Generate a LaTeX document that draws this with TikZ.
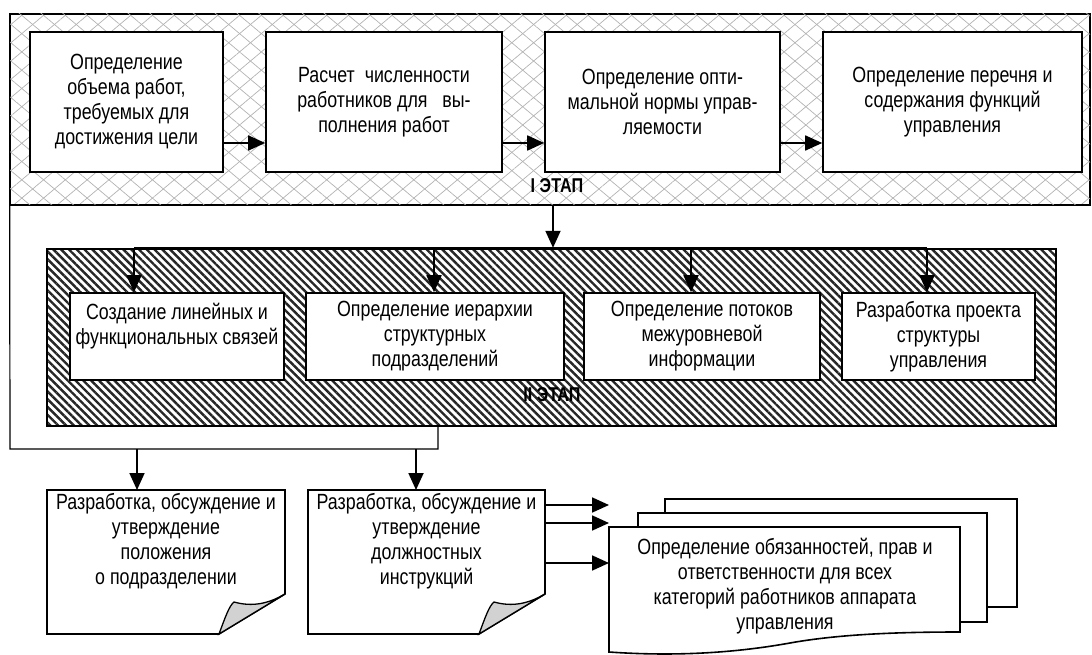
\documentclass[tikz,border=0pt]{standalone}
\usepackage{fontspec}
\setmainfont{Liberation Sans}[FakeStretch=0.81]
\usetikzlibrary{patterns.meta,arrows.meta}
\begin{document}
\begin{tikzpicture}[x=1pt,y=-1pt,
  font=\fontsize{22}{25}\selectfont,
  boxst/.style={draw, line width=1.6pt, fill=white, inner sep=1pt, align=center},
  region/.style={inner sep=0pt, outer sep=0pt},
  arr/.style={line width=1.8pt, -{Triangle[length=17pt,width=15pt]}},
  thin/.style={line width=1.2pt},
  lbl/.style={font=\fontsize{20}{22}\selectfont\bfseries, inner sep=0pt},
  txt/.style={align=center, inner sep=0pt},
  docst/.style={draw, line width=1.6pt, fill=white},
  frameone/.style={draw, line width=1.5pt, inner sep=0pt,
    pattern={Lines[angle=40,distance=14pt,line width=0.7pt]}, pattern color=gray!60,
    postaction={pattern={Lines[angle=-40,distance=14pt,line width=0.7pt]}, pattern color=gray!60}},
  frametwo/.style={draw, line width=1.5pt, inner sep=0pt,
    pattern={Lines[angle=-45,distance=5.5pt,line width=2.4pt]}, pattern color=black!85},
]
\useasboundingbox (0,0) rectangle (1092,655);

% ---------- Stage I ----------
\node[frameone, minimum width=1080pt, minimum height=191pt] (s1) at (550,109.5) {};
\node[boxst, minimum width=193pt, minimum height=140pt] (b1) at (126.5,102)
  {Определение\\объема работ,\\требуемых для\\достижения цели};
\node[boxst, minimum width=236pt, minimum height=140pt] (b2) at (384,102)
  {Расчет\ \ численности\\работников для\ \ \ вы-\\полнения работ};
\node[boxst, minimum width=235pt, minimum height=140pt] (b3) at (662.5,102)
  {Определение опти-\\мальной нормы управ-\\ляемости};
\node[boxst, minimum width=259pt, minimum height=140pt] (b4) at (952.5,102)
  {Определение перечня и\\содержания функций\\управления};
\coordinate (ya) at (0,143);
\draw[arr] (b1.east |- ya) -- (b2.west |- ya);
\draw[arr] (b2.east |- ya) -- (b3.west |- ya);
\draw[arr] (b3.east |- ya) -- (b4.west |- ya);
\node[lbl] (l1) at (557,186) {I ЭТАП};

% ---------- Stage II ----------
\node[frametwo, minimum width=1009pt, minimum height=177pt] (s2) at (551.5,337.5) {};
\node[boxst, minimum width=214pt, minimum height=87pt] (c1) at (177,336.5)
  {Создание линейных и\\функциональных связей\\~};
\node[boxst, minimum width=258pt, minimum height=87pt] (c2) at (435,336.5)
  {Определение иерархии\\структурных\\подразделений};
\node[boxst, minimum width=236pt, minimum height=87pt] (c3) at (702,336.5)
  {Определение потоков\\межуровневой\\информации};
\node[boxst, minimum width=193pt, minimum height=87pt] (c4) at (938.5,336.5)
  {Разработка проекта\\структуры\\управления};
\node[lbl] (l2) at (552,395) {II ЭТАП};

% trunk and bus
\coordinate (tx) at (553,0);
\draw[arr] (s1.south -| tx) -- (s2.north -| tx);
\coordinate (bus1) at (134,248);
\coordinate (bus2) at (434,248);
\coordinate (bus3) at (691,248);
\coordinate (bus4) at (927,248);
\draw[line width=1.8pt] (bus1) -- (bus4);
\draw[arr] (bus1) -- (c1.north -| bus1);
\draw[arr] (bus2) -- (c2.north -| bus2);
\draw[arr] (bus3) -- (c3.north -| bus3);
\draw[arr] (bus4) -- (c4.north -| bus4);

% ---------- Documents ----------
\node[region, minimum width=238pt, minimum height=144pt] (d1) at (166,562) {};
\node[region, minimum width=237pt, minimum height=144pt] (d2) at (426.5,562) {};
\draw[docst] (47,490) -- (285,490) -- (285,594) -- (219,634) -- (47,634) -- cycle;
\draw[docst] (308,490) -- (545,490) -- (545,594) -- (479,634) -- (308,634) -- cycle;
\filldraw[fill=gray!35, line width=1.3pt] (219,634) .. controls (225,618) and (229,606) .. (234,602)
  .. controls (252,607) and (268,604) .. (285,594) -- cycle;
\filldraw[fill=gray!35, line width=1.3pt] (479,634) .. controls (485,618) and (489,606) .. (494,602)
  .. controls (512,607) and (528,604) .. (545,594) -- cycle;
\node[txt] (d1t) at (166,541) {Разработка, обсуждение и\\утверждение\\положения\\о подразделении};
\node[txt] (d2t) at (426.5,541) {Разработка, обсуждение и\\утверждение\\должностных\\инструкций};

% L connector from stages to documents
\coordinate (lc1) at (10,449);
\coordinate (lc2) at (438,449);
\draw[thin] (s1.south west) -- (lc1) -- (lc2) -- (s2.south -| lc2);
\coordinate (lc3) at (137,449);
\coordinate (lc4) at (416,449);
\draw[arr] (lc3) -- (d1.north -| lc3);
\draw[arr] (lc4) -- (d2.north -| lc4);

% stacked documents
\node[region, minimum width=352pt, minimum height=108pt] (k1) at (841,553) {};
\node[region, minimum width=349pt, minimum height=109pt] (m1) at (812.5,567.5) {};
\node[region, minimum width=351pt, minimum height=125pt] (f1) at (784.5,589.5) {};
\draw[docst] (k1.north west) rectangle (k1.south east);
\draw[docst] (m1.north west) rectangle (m1.south east);
\draw[docst] (609,527) -- (960,527) -- (960,632)
  .. controls (900,632) and (840,634) .. (790,643)
  .. controls (740,652) and (680,657) .. (609,652) -- cycle;
\node[txt] (f1t) at (785,586) {Определение обязанностей, прав и\\ответственности для всех\\категорий работников аппарата\\управления};

\coordinate (ay1) at (0,505);
\coordinate (ay2) at (0,523);
\coordinate (ay3) at (0,563);
\draw[arr] (d2.east |- ay1) -- (f1.west |- ay1);
\draw[arr] (d2.east |- ay2) -- (f1.west |- ay2);
\draw[arr] (d2.east |- ay3) -- (f1.west |- ay3);
\end{tikzpicture}
\end{document}
